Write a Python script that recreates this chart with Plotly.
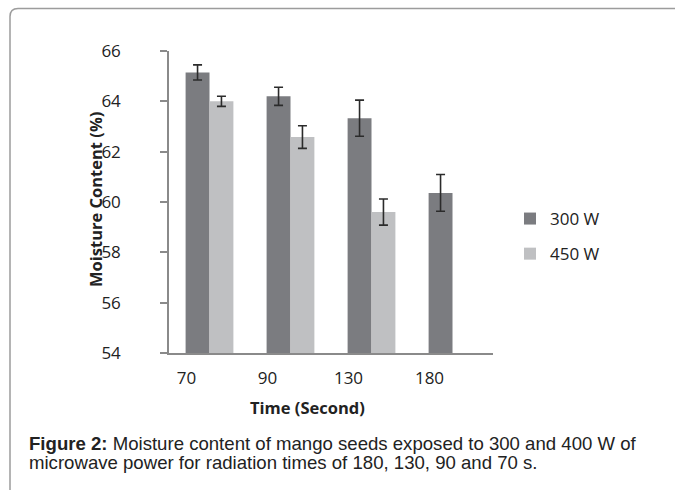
import plotly.graph_objects as go

categories = ["70", "90", "130", "180"]
w300 = [65.15, 64.2, 63.33, 60.36]
w300_err = [0.3, 0.36, 0.72, 0.73]
w450 = [64.0, 62.58, 59.6, None]
w450_err = [0.2, 0.45, 0.52, None]
y_ticks = [54, 56, 58, 60, 62, 64, 66]

W, H = 675, 490
L, R, T, B = 169, 182, 51, 137
PW, PH = W - L - R, H - T - B

def px(x):
    return (x - L) / PW

def py(y):
    return (H - B - y) / PH

fig = go.Figure()
fig.add_trace(go.Bar(
    x=categories, y=w300, name="300 W",
    marker=dict(color="#7b7c80", line=dict(width=0)),
    error_y=dict(type="data", array=w300_err, visible=True,
                 color="#2b2b2b", thickness=1.6, width=4.5),
    legendgroup="a",
))
fig.add_trace(go.Bar(
    x=categories, y=w450, name="450 W",
    marker=dict(color="#bfc0c2", line=dict(width=0)),
    error_y=dict(type="data", array=w450_err, visible=True,
                 color="#2b2b2b", thickness=1.6, width=4.5),
    legendgroup="b",
))

tick_font = dict(family="Open Sans", size=17, color="#222222")

fig.update_layout(
    width=W, height=H,
    margin=dict(l=L, r=R, t=T, b=B, pad=0, autoexpand=False),
    paper_bgcolor="white", plot_bgcolor="white",
    barmode="group", bargap=0.41, bargroupgap=0,
    showlegend=True,
    legend=dict(x=px(510), xanchor="left", y=py(201), yanchor="top",
                font=dict(family="Open Sans", size=17, color="#222222"),
                traceorder="grouped", tracegroupgap=10,
                bgcolor="rgba(0,0,0,0)"),
    xaxis=dict(type="category", categoryarray=categories,
               showline=True, linecolor="#8a8a8a", linewidth=1.5,
               showgrid=False, zeroline=False, ticks="",
               tickfont=tick_font, ticklabelshift=-23,
               ticklabelstandoff=9),
    yaxis=dict(range=[54, 66], tickvals=y_ticks,
               showline=True, linecolor="#8a8a8a", linewidth=1.5,
               showgrid=False, zeroline=False,
               ticks="outside", ticklen=7, tickcolor="#8a8a8a", tickwidth=1.5,
               tickfont=tick_font, ticklabelstandoff=36),
    font=dict(family="Open Sans"),
)

# frame with rounded corner
r = 8
fx, fy = px(10), py(8.5)
path = (f"M {fx},{py(500)} L {fx},{py(8.5 + r)} "
        f"Q {fx},{fy} {px(10 + r)},{fy} L {px(690)},{fy}")
fig.add_shape(type="path", xref="paper", yref="paper", path=path,
              line=dict(color="#9c9c9c", width=1.5))

fig.add_annotation(xref="paper", yref="paper", x=px(95), y=py(200),
                   xanchor="center", yanchor="middle",
                   text="<b>Moisture Content (%)</b>", textangle=-90,
                   showarrow=False,
                   font=dict(family="Open Sans", size=16.5, color="#222222"))
fig.add_annotation(xref="paper", yref="paper", x=px(307), y=py(407),
                   xanchor="center", yanchor="middle",
                   text="<b>Time (Second)</b>", showarrow=False,
                   font=dict(family="Open Sans", size=16.5, color="#222222"))

cap_font = dict(family="Liberation Sans, Arial", size=18.6, color="#222222")
fig.add_annotation(xref="paper", yref="paper", x=px(27), y=py(443),
                   xanchor="left", yanchor="middle", showarrow=False, font=cap_font,
                   text="<b>Figure 2:</b> Moisture content of mango seeds exposed to 300 and 400 W of")
fig.add_annotation(xref="paper", yref="paper", x=px(27), y=py(462.5),
                   xanchor="left", yanchor="middle", showarrow=False, font=cap_font,
                   text="microwave power for radiation times of 180, 130, 90 and 70 s.")

fig.write_html("out.html", config={"displayModeBar": False},
               post_script="document.body.style.margin='0';document.body.style.padding='0';")
